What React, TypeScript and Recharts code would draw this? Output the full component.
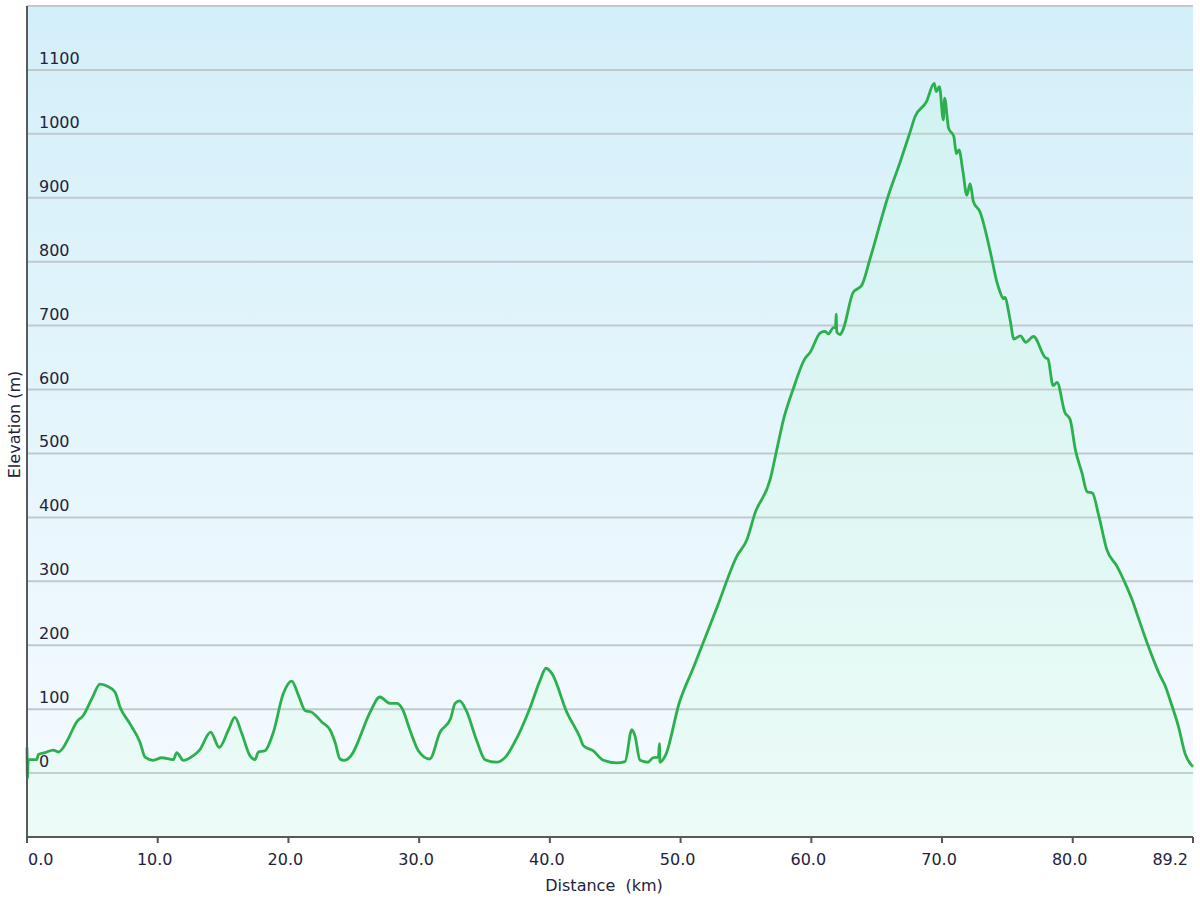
import { AreaChart, Area, XAxis, YAxis, CartesianGrid, Label } from 'recharts'

// distance along the route (km) and elevation (m)
const distanceKm = [
  0, 0.03, 0.1, 0.74, 0.87, 1.38, 2.0, 2.4, 2.78, 3.16, 3.8, 4.3, 4.95, 5.59, 6.22, 6.73, 7.12, 7.88, 8.65, 9.03,
  9.66, 10.3, 11.2, 11.45, 11.96, 12.7, 13.2, 14.05, 14.7, 15.4, 15.9, 16.4, 17.06, 17.44, 17.7, 18.2, 18.85, 19.6,
  20.25, 20.76, 21.27, 21.8, 22.55, 23.2, 23.57, 23.95, 24.25, 24.97, 25.2, 26.24, 27.0, 27.77, 28.3, 28.7, 29.3,
  29.94, 30.8, 31.6, 32.4, 32.75, 33.1, 33.6, 34.4, 35.04, 35.9, 36.6, 37.5, 38.5, 39.25, 39.7, 40.15, 41.3, 42.3,
  42.56, 43.3, 44.1, 45.1, 45.75, 46.27, 46.5, 46.9, 47.5, 47.9, 48.3, 48.38, 48.42, 48.85, 49.9, 51.0, 52.8, 54.3,
  55.07, 55.7, 56.85, 57.36, 57.87, 58.6, 59.5, 59.9, 60.7, 61.06, 61.3, 61.7, 61.85, 61.9, 61.95, 62.2, 62.45, 63.2,
  63.86, 64.5, 65.9, 66.8, 67.56, 67.94, 68.8, 69.4, 69.56, 69.8, 70.1, 70.2, 70.5, 70.9, 71.1, 71.3, 71.6, 71.9,
  72.15, 72.4, 72.9, 73.7, 74.2, 74.45, 74.7, 74.8, 75.2, 75.5, 76.0, 76.4, 77.0, 77.9, 78.1, 78.5, 78.8, 79.4, 79.8,
  80.2, 80.7, 81.1, 81.5, 82.0, 82.6, 83.4, 83.9, 84.6, 84.9, 85.7, 86.6, 87.1, 87.45, 88.1, 88.6, 89.1, 89.2,
]
const elevationM = [
  40, -8, 21, 21, 29, 32, 36, 33, 40, 54, 80, 90, 116, 139, 135, 127, 103, 77, 48, 25,
  20, 24, 21, 32, 20, 27, 36, 64, 40, 67, 87, 64, 27, 21, 33, 35, 64, 124,
  144, 122, 98, 95, 80, 67, 48, 22, 20, 33, 43, 95, 119, 109, 109, 101, 67,
  35, 22, 64, 85, 109, 113, 98, 51, 21, 17, 25, 56, 103, 145, 164, 156, 95, 56,
  43, 35, 20, 16, 18, 68, 59, 20, 17, 24, 25, 46, 17, 28, 110, 166, 260, 339,
  365, 407, 459, 506, 553, 600, 648, 658, 689, 691, 687, 697, 697, 718, 690, 686, 695, 752,
  763, 805, 904, 956, 1003, 1027, 1050, 1079, 1066, 1074, 1022, 1056, 1009, 996, 969, 975, 941, 904,
  922, 894, 878, 815, 768, 752, 742, 744, 710, 679, 684, 674, 683, 650, 648, 606, 611, 564, 553,
  506, 470, 440, 438, 402, 350, 323, 302, 268, 250, 203, 156, 135, 114, 72, 30, 12, 10,
]
const xTicks = [0, 10, 20, 30, 40, 50, 60, 70, 80, 89.2]
const yTicks = [0, 100, 200, 300, 400, 500, 600, 700, 800, 900, 1000, 1100]

const data = distanceKm.map((d, i) => ({ d, elev: elevationM[i] }))

const FONT = "'DejaVu Sans', Verdana, sans-serif"
const TEXT = '#22223a'

const XTick = ({ x, y, payload }: any) => {
  const v = payload.value
  const anchor = v === 0 ? 'start' : v === 89.2 ? 'end' : 'middle'
  const dx = v === 0 ? 1 : v === 89.2 ? -5 : -3
  return (
    <text x={x + dx} y={y + 20} textAnchor={anchor} fill={TEXT} fontSize={16} fontFamily={FONT}>
      {v.toFixed(1)}
    </text>
  )
}

const YTick = ({ x, y, payload }: any) => (
  <text x={x + 12} y={y - 6} textAnchor="start" fill={TEXT} fontSize={16} fontFamily={FONT}>
    {payload.value}
  </text>
)

const YTitle = ({ viewBox }: any) => {
  const cx = viewBox.x + viewBox.width - 7.5
  const cy = viewBox.y + viewBox.height / 2 + 3
  return (
    <text x={cx} y={cy} transform={`rotate(-90, ${cx}, ${cy})`} textAnchor="middle" fill={TEXT} fontSize={16} fontFamily={FONT}>
      Elevation (m)
    </text>
  )
}

const XTitle = ({ viewBox }: any) => (
  <text x={viewBox.x + viewBox.width / 2 - 6} y={viewBox.y + 54} textAnchor="middle" fill={TEXT} fontSize={16} fontFamily={FONT} style={{ whiteSpace: 'pre' }}>
    {'Distance  (km)'}
  </text>
)

export default function App() {
  return (
    <div style={{ position: 'absolute', left: 0, top: 0, background: '#fff' }}>
      <AreaChart width={1200} height={900} data={data} margin={{ top: 6, right: 7, bottom: 33, left: 0 }}>
        <defs>
          <linearGradient id="bgGrad" x1="0" y1="0" x2="0" y2="1">
            <stop offset="0%" stopColor="#d3eff9" />
            <stop offset="100%" stopColor="#f6fbff" />
          </linearGradient>
        </defs>
        <CartesianGrid vertical={false} stroke="#bfc9ce" strokeWidth={2} fill="url(#bgGrad)" />
        <XAxis
          dataKey="d"
          type="number"
          domain={[0, 89.2]}
          ticks={xTicks}
          interval={0}
          height={30}
          tick={<XTick />}
          tickSize={6}
          tickLine={{ stroke: '#555', strokeWidth: 2 }}
          axisLine={{ stroke: '#5a5a5a', strokeWidth: 2 }}
        >
          <Label content={<XTitle />} />
        </XAxis>
        <XAxis xAxisId="top" orientation="top" type="number" domain={[0, 1]} height={0} tick={false} tickLine={false} axisLine={{ stroke: '#cccccc', strokeWidth: 2 }} />
        <YAxis
          type="number"
          domain={[-100, 1200]}
          ticks={yTicks}
          interval={0}
          width={27}
          tick={<YTick />}
          tickSize={0}
          tickMargin={0}
          tickLine={false}
          axisLine={{ stroke: '#5a5a5a', strokeWidth: 2 }}
        >
          <Label content={<YTitle />} />
        </YAxis>
        <YAxis yAxisId="right" orientation="right" type="number" domain={[0, 1]} width={0} tick={false} tickLine={false} axisLine={{ stroke: '#cccccc', strokeWidth: 2 }} />
        <Area
          type="monotone"
          dataKey="elev"
          baseValue="dataMin"
          stroke="#2bb04d"
          strokeWidth={2.8}
          fill="#bcffcd"
          fillOpacity={0.16}
          isAnimationActive={false}
          dot={false}
          activeDot={false}
        />
      </AreaChart>
    </div>
  )
}
